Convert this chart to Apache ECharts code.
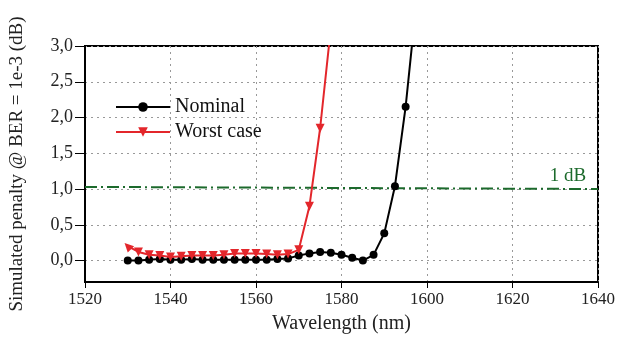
<!DOCTYPE html>
<html>
<head>
<meta charset="utf-8">
<script src="https://cdn.jsdelivr.net/npm/echarts@6/dist/echarts.min.js"></script>
<style>
  html, body { margin: 0; padding: 0; background: #fff; }
  #chart { width: 618px; height: 340px; }
</style>
</head>
<body>
<div id="chart"></div>
<script>
// wavelength (nm) / penalty (dB)
const nominalX = [1530, 1532.5, 1535, 1537.5, 1540, 1542.5, 1545, 1547.5, 1550, 1552.5, 1555, 1557.5, 1560, 1562.5,
  1565, 1567.5, 1570, 1572.5, 1575, 1577.5, 1580, 1582.5, 1585, 1587.5, 1590, 1592.5, 1595, 1597.5];
const nominalY = [0.0, 0.0, 0.01, 0.02, 0.01, 0.01, 0.02, 0.01, 0.01, 0.01, 0.01, 0.01, 0.01, 0.01,
  0.02, 0.03, 0.07, 0.1, 0.12, 0.11, 0.08, 0.04, 0.0, 0.08, 0.38, 1.04, 2.15, 3.6];
const worstX = [1530, 1532.5, 1535, 1537.5, 1540, 1542.5, 1545, 1547.5, 1550, 1552.5, 1555, 1557.5, 1560, 1562.5,
  1565, 1567.5, 1570, 1572.5, 1575, 1577.5];
const worstY = [0.2, 0.12, 0.08, 0.07, 0.05, 0.06, 0.07, 0.07, 0.07, 0.08, 0.1, 0.1, 0.1, 0.09,
  0.08, 0.09, 0.15, 0.76, 1.85, 3.25];
const refX = [1520, 1640];
const refY = [1.03, 1.0];
const refLabel = { text: '1 dB', x: 1633, y: 1.0 };
const yTicks = [0, 0.5, 1.0, 1.5, 2.0, 2.5, 3.0];

const serif = 'Liberation Serif';
const zip = (xs, ys) => xs.map((x, i) => [x, ys[i]]);

const chart = echarts.init(document.getElementById('chart'));
chart.setOption({
  animation: false,
  grid: {
    left: 84, right: 20, top: 46, bottom: 58,
    show: true, borderColor: '#000', borderWidth: 2,
  },
  legend: {
    orient: 'vertical',
    left: 110, top: 92,
    itemWidth: 54, itemHeight: 12, itemGap: 5,
    textStyle: { fontFamily: serif, fontSize: 20, color: '#111' },
    data: ['Nominal', 'Worst case'],
  },
  xAxis: {
    type: 'value',
    min: 1520, max: 1640, interval: 20,
    name: 'Wavelength (nm)',
    nameLocation: 'middle', nameGap: 32,
    nameTextStyle: { fontFamily: serif, fontSize: 20, color: '#222' },
    axisLine: { onZero: false, lineStyle: { color: '#000', width: 2 } },
    axisTick: { show: true, length: 6, lineStyle: { color: '#000' } },
    axisLabel: { fontFamily: serif, fontSize: 17, color: '#222', margin: 9, formatter: (v) => String(v) },
    splitLine: { show: true, lineStyle: { color: '#999', type: [2, 4], width: 1 } },
  },
  yAxis: {
    type: 'value',
    min: -0.3, max: 3,
    name: 'Simulated penalty @ BER = 1e-3 (dB)',
    nameLocation: 'middle', nameGap: 58,
    nameTextStyle: { fontFamily: serif, fontSize: 19, color: '#222' },
    axisLine: { show: true, lineStyle: { color: '#000', width: 2 } },
    axisTick: { show: true, length: 10, lineStyle: { color: '#000' }, customValues: yTicks },
    axisLabel: {
      fontFamily: serif, fontSize: 18, color: '#222', margin: 12,
      customValues: yTicks,
      formatter: (v) => v.toFixed(1).replace('.', ','),
    },
    splitLine: { show: true, lineStyle: { color: '#999', type: [2, 4], width: 1 } },
  },
  series: [
    {
      name: 'Nominal',
      type: 'line',
      data: zip(nominalX, nominalY),
      color: '#000',
      symbol: 'circle', symbolSize: 8,
      lineStyle: { width: 2, color: '#000' },
      itemStyle: { color: '#000' },
      clip: true, z: 3,
    },
    {
      name: 'Worst case',
      type: 'line',
      data: zip(worstX, worstY).map((p, i) => i === 0
        ? { value: p, symbolRotate: 45 }
        : { value: p }),
      color: '#e3262b',
      symbol: 'triangle', symbolSize: 9, symbolRotate: 180,
      lineStyle: { width: 2, color: '#e3262b' },
      itemStyle: { color: '#e3262b' },
      clip: true, z: 4,
    },
    {
      name: '1 dB',
      type: 'line',
      data: zip(refX, refY),
      symbol: 'none',
      lineStyle: { width: 2, color: '#1c6a2c', type: [12, 4, 2, 4] },
      markPoint: {
        symbol: 'circle', symbolSize: 1,
        itemStyle: { color: 'rgba(0,0,0,0)' },
        label: {
          show: true, position: 'top', distance: 3,
          formatter: refLabel.text,
          fontFamily: serif, fontSize: 19, color: '#1c6a2c',
        },
        data: [{ coord: [refLabel.x, refLabel.y] }],
      },
      z: 2,
    },
  ],
});
</script>
</body>
</html>
